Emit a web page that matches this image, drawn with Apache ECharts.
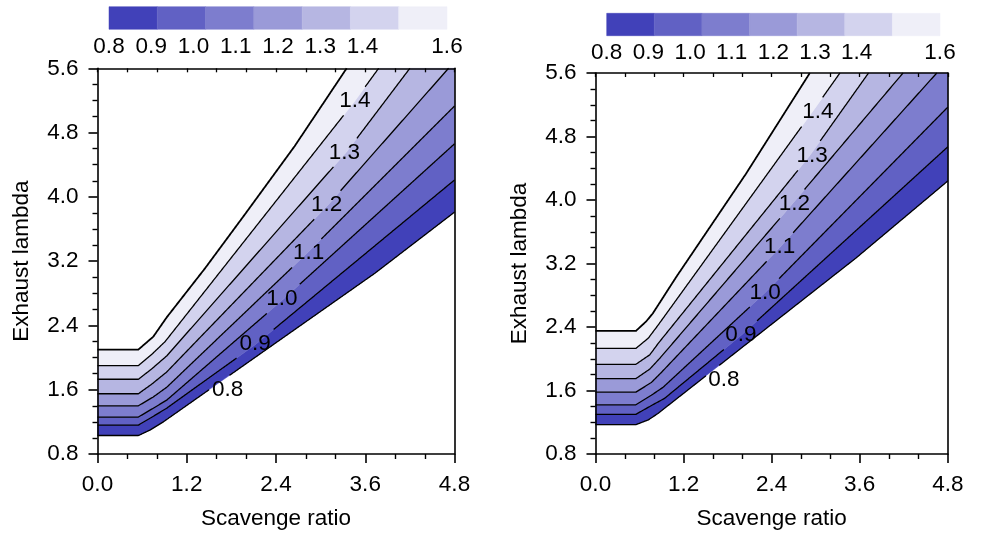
<!DOCTYPE html>
<html>
<head>
<meta charset="utf-8">
<script src="https://cdn.jsdelivr.net/npm/echarts@6/dist/echarts.min.js"></script>
<style>
  html, body { margin: 0; padding: 0; background: #fff; }
  #chart { width: 983px; height: 535px; }
</style>
</head>
<body>
<div id="chart"></div>
<script>
// Contour levels and the fill used between consecutive levels
const levels = [0.8, 0.9, 1.0, 1.1, 1.2, 1.3, 1.4, 1.6];
const bandColors = ['#4141b9', '#6161c4', '#7d7dce', '#9a9ad8', '#b6b6e2', '#d3d3ee', '#efeff8'];
const colorbarTicks = [0.8, 0.9, 1.0, 1.1, 1.2, 1.3, 1.4, 1.6];

// Axis ranges
const xRange = [0, 4.8];
const xStep = 1.2;
const yRange = [0.8, 5.6];
const yStep = 0.8;

// Left panel: contour lines as [scavenge ratio, exhaust lambda]
const left08 = [[0, 1.03], [0.55, 1.03], [0.71, 1.10], [0.885, 1.20], [3.73, 3.05], [4.8, 3.81]];
const left09 = [[0, 1.16], [0.55, 1.16], [0.77, 1.28], [0.93, 1.37], [2.12, 2.16], [4.8, 4.21]];
const left10 = [[0, 1.26], [0.55, 1.26], [0.75, 1.37], [0.93, 1.47], [2.49, 2.72], [4.8, 4.66]];
const left11 = [[0, 1.40], [0.55, 1.40], [0.75, 1.51], [0.93, 1.63], [2.83, 3.31], [4.8, 5.13]];
const left12 = [[0, 1.55], [0.55, 1.55], [0.73, 1.67], [0.93, 1.82], [3.10, 3.90], [4.72, 5.6]];
const left13 = [[0, 1.73], [0.55, 1.73], [0.73, 1.86], [0.93, 2.02], [3.35, 4.56], [4.20, 5.6]];
const left14 = [[0, 1.90], [0.55, 1.90], [0.73, 2.04], [0.91, 2.20], [3.45, 5.18], [3.78, 5.6]];
const leftEdge = [[0, 2.10], [0.55, 2.10], [0.75, 2.26], [0.93, 2.50], [1.445, 3.11], [1.98, 3.78], [2.65, 4.63], [3.35, 5.6]];
const leftLabelAt = [[1.75, 1.60], [2.12, 2.17], [2.48, 2.73], [2.84, 3.30], [3.08, 3.90], [3.32, 4.55], [3.46, 5.19]];

// Right panel: contour lines as [scavenge ratio, exhaust lambda]
const right08 = [[0, 1.17], [0.55, 1.17], [0.72, 1.23], [0.85, 1.31], [3.55, 3.27], [4.8, 4.24]];
const right09 = [[0, 1.30], [0.55, 1.30], [0.78, 1.42], [0.94, 1.50], [1.99, 2.30], [4.8, 4.67]];
const right10 = [[0, 1.42], [0.55, 1.42], [0.76, 1.54], [0.92, 1.64], [2.31, 2.83], [4.8, 5.17]];
const right11 = [[0, 1.58], [0.55, 1.58], [0.76, 1.70], [0.90, 1.83], [2.52, 3.41], [4.65, 5.6]];
const right12 = [[0, 1.75], [0.55, 1.75], [0.74, 1.87], [0.88, 2.01], [2.69, 3.96], [4.19, 5.6]];
const right13 = [[0, 1.93], [0.55, 1.93], [0.74, 2.05], [0.86, 2.20], [2.92, 4.56], [3.72, 5.6]];
const right14 = [[0, 2.13], [0.55, 2.13], [0.72, 2.26], [0.85, 2.42], [3.00, 5.17], [3.33, 5.6]];
const rightEdge = [[0, 2.35], [0.55, 2.35], [0.69, 2.47], [0.78, 2.57], [1.10, 3.03], [2.05, 4.33], [2.92, 5.6]];
const rightLabelAt = [[1.75, 1.74], [1.98, 2.30], [2.31, 2.83], [2.51, 3.41], [2.71, 3.95], [2.95, 4.56], [3.03, 5.11]];

const leftLines = [left08, left09, left10, left11, left12, left13, left14, leftEdge];
const rightLines = [right08, right09, right10, right11, right12, right13, right14, rightEdge];

const FONT = "'Liberation Sans', Arial, sans-serif";
const FS = 22.5;
const INK = '#000';

const chart = echarts.init(document.getElementById('chart'), null, { renderer: 'canvas' });

// Filled band between line i and line i+1 (closes through the top-right corner when needed)
function bandRenderer(lines) {
  return function (params, api) {
    const i = api.value(0);
    const lower = lines[i];
    const upper = lines[i + 1];
    const pts = lower.map(p => api.coord(p));
    const lEnd = lower[lower.length - 1];
    const uEnd = upper[upper.length - 1];
    if (lEnd[0] >= xRange[1] - 1e-9 && lEnd[1] < yRange[1] && uEnd[1] >= yRange[1] - 1e-9 && uEnd[0] < xRange[1]) {
      pts.push(api.coord([xRange[1], yRange[1]]));
    }
    for (let k = upper.length - 1; k >= 0; k--) pts.push(api.coord(upper[k]));
    return {
      type: 'polygon',
      shape: { points: pts },
      style: { fill: bandColors[i], stroke: bandColors[i], lineWidth: 0.5 }
    };
  };
}

// Contour line, broken where its level label sits
function lineRenderer(lines, labelAt) {
  return function (params, api) {
    const i = api.value(0);
    const pts = lines[i].map(p => api.coord(p));
    let box = null;
    if (i < labelAt.length) {
      const c = api.coord(labelAt[i]);
      box = { x0: c[0] - 18, x1: c[0] + 18, y0: c[1] - 14, y1: c[1] + 14 };
    }
    const runs = [];
    let cur = [];
    for (let k = 0; k < pts.length - 1; k++) {
      const a = pts[k], b = pts[k + 1];
      const n = Math.max(1, Math.ceil(Math.hypot(b[0] - a[0], b[1] - a[1])));
      for (let s = (k === 0 ? 0 : 1); s <= n; s++) {
        const t = s / n;
        const p = [a[0] + (b[0] - a[0]) * t, a[1] + (b[1] - a[1]) * t];
        const inside = box && p[0] > box.x0 && p[0] < box.x1 && p[1] > box.y0 && p[1] < box.y1;
        if (inside) {
          if (cur.length > 1) runs.push(cur);
          cur = [];
        } else {
          cur.push(p);
        }
      }
    }
    if (cur.length > 1) runs.push(cur);
    const w = (i === lines.length - 1) ? 1.8 : 1.3;
    return {
      type: 'group',
      children: runs.map(r => ({
        type: 'polyline',
        shape: { points: r },
        style: { stroke: INK, lineWidth: w, fill: null, lineJoin: 'round' }
      }))
    };
  };
}

function labelRenderer(labelAt) {
  return function (params, api) {
    const i = api.value(0);
    const c = api.coord(labelAt[i]);
    return {
      type: 'text',
      x: c[0], y: c[1],
      style: {
        text: levels[i].toFixed(1),
        fill: INK,
        font: FS + 'px ' + FONT,
        align: 'center',
        verticalAlign: 'middle'
      }
    };
  };
}

function colorbarRenderer(params, api) {
  const i = api.value(0);
  const a = api.coord([i, 0]);
  const b = api.coord([i + 1, 1]);
  return {
    type: 'rect',
    shape: { x: a[0], y: b[1], width: b[0] - a[0], height: a[1] - b[1] },
    style: { fill: bandColors[i], stroke: bandColors[i], lineWidth: 0.5 }
  };
}

const idx = arr => arr.map((_, k) => [k]);

const lineStyleAxis = { color: INK, width: 1.6 };
const labelStyle = { fontSize: FS, color: INK, fontFamily: FONT };

function panelXAxes(gridIndex) {
  return [
    {
      gridIndex, type: 'value', position: 'bottom', min: xRange[0], max: xRange[1], interval: xStep, z: 10,
      axisLine: { show: true, onZero: false, lineStyle: lineStyleAxis },
      axisTick: { show: true, inside: false, length: 9, lineStyle: lineStyleAxis },
      minorTick: { show: true, splitNumber: 3, length: 5, lineStyle: { color: INK, width: 1.4 } },
      splitLine: { show: false },
      axisLabel: Object.assign({ margin: 19, formatter: v => v.toFixed(1) }, labelStyle),
      name: 'Scavenge ratio', nameLocation: 'middle', nameGap: 53,
      nameTextStyle: labelStyle
    },
    {
      gridIndex, type: 'value', position: 'top', min: xRange[0], max: xRange[1], interval: 0.4, z: 10,
      axisLine: { show: true, onZero: false, lineStyle: lineStyleAxis },
      axisTick: { show: true, inside: true, length: 4, lineStyle: { color: INK, width: 1.3 } },
      axisLabel: { show: false },
      splitLine: { show: false }
    }
  ];
}

function panelYAxes(gridIndex) {
  return [
    {
      gridIndex, type: 'value', position: 'left', min: yRange[0], max: yRange[1], interval: yStep, z: 10,
      axisLine: { show: true, onZero: false, lineStyle: lineStyleAxis },
      axisTick: { show: true, inside: false, length: 9, lineStyle: lineStyleAxis },
      minorTick: { show: true, splitNumber: 4, length: 5, lineStyle: { color: INK, width: 1.4 } },
      splitLine: { show: false },
      axisLabel: Object.assign({ margin: 19, formatter: v => v.toFixed(1) }, labelStyle),
      name: 'Exhaust lambda', nameLocation: 'middle', nameGap: 64, nameRotate: 90,
      nameTextStyle: labelStyle
    },
    {
      gridIndex, type: 'value', position: 'right', min: yRange[0], max: yRange[1], z: 10,
      axisLine: { show: true, onZero: false, lineStyle: lineStyleAxis },
      axisTick: { show: false },
      axisLabel: { show: false },
      splitLine: { show: false }
    }
  ];
}

function colorbarXAxes(gridIndex) {
  return [
    {
      gridIndex, type: 'value', position: 'bottom', min: levels[0], max: levels[levels.length - 1],
      axisLine: { show: false }, axisTick: { show: false }, splitLine: { show: false },
      axisLabel: Object.assign({ margin: 6, customValues: colorbarTicks, formatter: v => v.toFixed(1), showMinLabel: true, showMaxLabel: true }, labelStyle)
    },
    { gridIndex, type: 'value', min: 0, max: bandColors.length, show: false }
  ];
}

function colorbarYAxis(gridIndex) {
  return { gridIndex, type: 'value', min: 0, max: 1, show: false };
}

function panelSeries(lines, labelAt, xi, yi) {
  return [
    {
      type: 'custom', xAxisIndex: xi, yAxisIndex: yi, z: 2, silent: true,
      renderItem: bandRenderer(lines), data: idx(bandColors)
    },
    {
      type: 'custom', xAxisIndex: xi, yAxisIndex: yi, z: 3, silent: true,
      renderItem: lineRenderer(lines, labelAt), data: idx(lines)
    },
    {
      type: 'custom', xAxisIndex: xi, yAxisIndex: yi, z: 4, silent: true,
      renderItem: labelRenderer(labelAt), data: idx(labelAt)
    }
  ];
}

chart.setOption({
  animation: false,
  backgroundColor: '#fff',
  textStyle: { fontFamily: FONT },
  grid: [
    { left: 97.5, top: 68.3, width: 357, height: 391.5 },
    { left: 595.5, top: 73, width: 352.3, height: 388.5 },
    { left: 109, top: 6.7, width: 338, height: 22.6 },
    { left: 606.7, top: 13.3, width: 333.3, height: 22.4 }
  ],
  xAxis: [].concat(panelXAxes(0), panelXAxes(1), colorbarXAxes(2), colorbarXAxes(3)),
  yAxis: [].concat(panelYAxes(0), panelYAxes(1), [colorbarYAxis(2), colorbarYAxis(3)]),
  series: [].concat(
    panelSeries(leftLines, leftLabelAt, 0, 0),
    panelSeries(rightLines, rightLabelAt, 2, 2),
    [
      { type: 'custom', xAxisIndex: 5, yAxisIndex: 4, silent: true, renderItem: colorbarRenderer, data: idx(bandColors) },
      { type: 'custom', xAxisIndex: 7, yAxisIndex: 5, silent: true, renderItem: colorbarRenderer, data: idx(bandColors) }
    ]
  )
});
</script>
</body>
</html>
